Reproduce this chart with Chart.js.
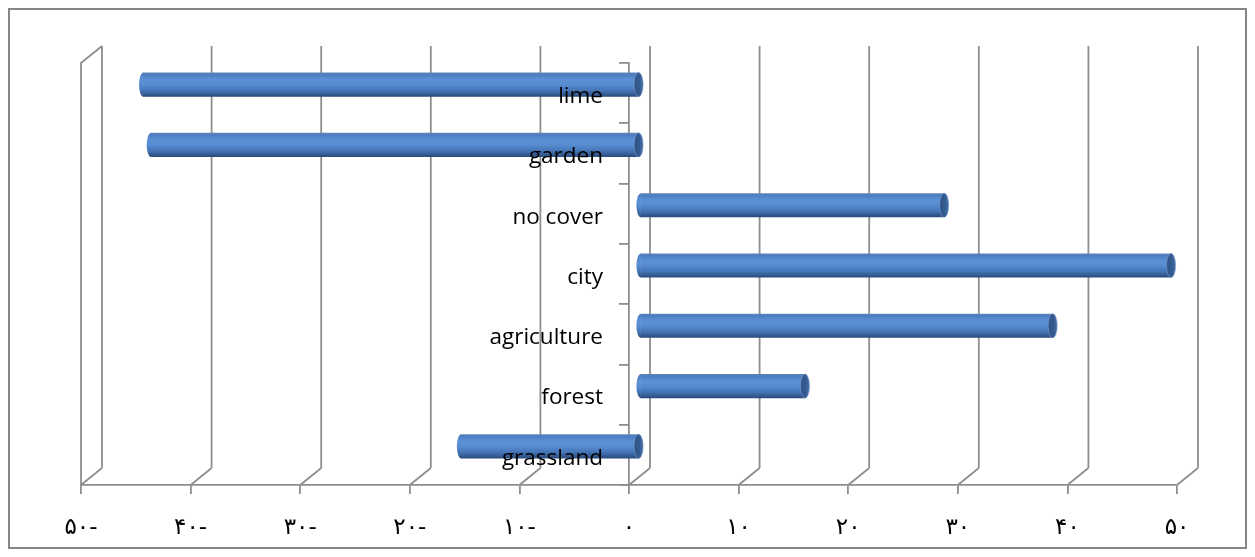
<!DOCTYPE html>
<html>
<head>
<meta charset="utf-8">
<script src="https://cdn.jsdelivr.net/npm/chart.js@4"></script>
<style>
  html, body { margin: 0; padding: 0; background: #fff; }
  canvas { display: block; }
</style>
</head>
<body>
<canvas id="c" width="1255" height="557"></canvas>
<script>
// Land-cover categories, top to bottom
const categories = ['lime', 'garden', 'no cover', 'city', 'agriculture', 'forest', 'grassland'];
// One value per category
const values = [-45.3, -44.6, 27.8, 48.5, 37.7, 15.1, -16.3];
// Value axis ticks and their labels (Persian digits)
const tickValues = [-50, -40, -30, -20, -10, 0, 10, 20, 30, 40, 50];
const tickLabels = ['۵۰-', '۴۰-', '۳۰-', '۲۰-', '۱۰-', '۰', '۱۰', '۲۰', '۳۰', '۴۰', '۵۰'];

const GRID = '#8e8e8e';
const DEPTH_X = 21, DEPTH_Y = -17;          // back wall offset
const BAR_DX = DEPTH_X / 2, BAR_DY = DEPTH_Y / 2; // bars sit mid-depth
const CAP_RX = 4.5;
const CAT_FONT = '22.5px "Open Sans"';
const CAT_GAP = 26;                          // axis line to label edge

function bodyGradient(g, y0, y1) {
  const gr = g.createLinearGradient(0, y0, 0, y1);
  gr.addColorStop(0.0, '#6286b8');
  gr.addColorStop(0.08, '#4d7dc0');
  gr.addColorStop(0.3, '#5c91d6');
  gr.addColorStop(0.5, '#578cd2');
  gr.addColorStop(0.75, '#4474b5');
  gr.addColorStop(1.0, '#2a4a7a');
  return gr;
}

function halfThickness(chart) {
  const y = chart.scales.y;
  return Math.abs(y.getPixelForValue(1) - y.getPixelForValue(0)) * 0.4 / 2;
}

const frame3d = {
  id: 'frame3d',
  beforeDraw(chart) {
    const g = chart.ctx;
    g.save();
    g.fillStyle = '#fff';
    g.fillRect(0, 0, chart.width, chart.height);
    g.strokeStyle = '#868686';
    g.lineWidth = 2;
    g.strokeRect(9, 9, chart.width - 18, chart.height - 18);
    g.restore();
  },
  beforeDatasetsDraw(chart) {
    const g = chart.ctx;
    const { top, bottom } = chart.chartArea;
    const x = chart.scales.x;
    g.save();
    g.strokeStyle = GRID;
    g.lineWidth = 1.8;
    g.beginPath();
    tickValues.forEach(v => {
      const px = x.getPixelForValue(v);
      // back wall gridline
      g.moveTo(px + DEPTH_X, top + DEPTH_Y);
      g.lineTo(px + DEPTH_X, bottom + DEPTH_Y);
      // floor diagonal
      g.moveTo(px, bottom);
      g.lineTo(px + DEPTH_X, bottom + DEPTH_Y);
    });
    // side wall at the minimum
    const p0 = x.getPixelForValue(tickValues[0]);
    g.moveTo(p0, bottom);
    g.lineTo(p0, top);
    g.lineTo(p0 + DEPTH_X, top + DEPTH_Y);
    g.stroke();
    g.restore();

    g.save();
    g.translate(BAR_DX, BAR_DY);
  },
  afterDatasetsDraw(chart) {
    const g = chart.ctx;
    const meta = chart.getDatasetMeta(0);
    meta.data.forEach(el => {
      const { x, y, base, height } = el.getProps(['x', 'y', 'base', 'height'], true);
      const left = Math.min(x, base), right = Math.max(x, base);
      const ry = height / 2;
      // rounded left end
      g.beginPath();
      g.ellipse(left + 0.5, y, CAP_RX, ry, 0, Math.PI / 2, Math.PI * 1.5);
      g.closePath();
      g.fillStyle = bodyGradient(g, y - ry, y + ry);
      g.fill();
      // visible right end cap
      g.beginPath();
      g.ellipse(right, y, CAP_RX, ry, 0, 0, Math.PI * 2);
      const cg = g.createLinearGradient(right - CAP_RX, 0, right + CAP_RX, 0);
      cg.addColorStop(0, '#2f5386');
      cg.addColorStop(0.6, '#345b90');
      cg.addColorStop(1, '#4a74ad');
      g.fillStyle = cg;
      g.fill();
      g.strokeStyle = 'rgba(120,150,200,0.8)';
      g.lineWidth = 0.8;
      g.stroke();
    });
    g.restore();

    // category names, left of the category axis, over the bars
    const ys = chart.scales.y;
    const ax = chart.scales.x.getPixelForValue(0);
    g.save();
    g.font = CAT_FONT;
    g.fillStyle = '#000';
    g.textAlign = 'right';
    g.textBaseline = 'middle';
    categories.forEach((name, i) => {
      g.fillText(name, ax - CAT_GAP, ys.getPixelForValue(i) + 3.5);
    });
    g.restore();
  }
};

new Chart(document.getElementById('c'), {
  type: 'bar',
  data: {
    labels: categories,
    datasets: [{
      data: values,
      borderWidth: 0,
      barPercentage: 0.4,
      categoryPercentage: 1,
      backgroundColor(ctx) {
        const chart = ctx.chart;
        if (!chart.chartArea || ctx.dataIndex === undefined) return '#4f81bd';
        const cy = chart.scales.y.getPixelForValue(ctx.dataIndex);
        const h = halfThickness(chart);
        return bodyGradient(chart.ctx, cy - h, cy + h);
      }
    }]
  },
  options: {
    indexAxis: 'y',
    responsive: false,
    animation: false,
    layout: { padding: { left: 81, right: 78, top: 63, bottom: 0 } },
    plugins: { legend: { display: false }, tooltip: { enabled: false } },
    scales: {
      x: {
        type: 'linear',
        min: -50, max: 50,
        afterBuildTicks(scale) { scale.ticks = tickValues.map(v => ({ value: v })); },
        afterFit(scale) { scale.height = 72; },
        ticks: {
          color: '#000',
          padding: 20,
          maxRotation: 0,
          autoSkip: false,
          font: { family: 'DejaVu Sans', size: 23 },
          callback(v) { const i = tickValues.indexOf(v); return i >= 0 ? tickLabels[i] : ''; }
        },
        grid: { drawOnChartArea: false, tickLength: 9, color: GRID, lineWidth: 1.8 },
        border: { color: GRID, width: 1.8 }
      },
      y: {
        type: 'category',
        position: { x: 0 },
        ticks: { display: false },
        grid: { offset: true, drawOnChartArea: false, tickLength: 9, color: GRID, lineWidth: 1.8 },
        border: { color: GRID, width: 1.8 }
      }
    }
  },
  plugins: [frame3d]
});
</script>
</body>
</html>
